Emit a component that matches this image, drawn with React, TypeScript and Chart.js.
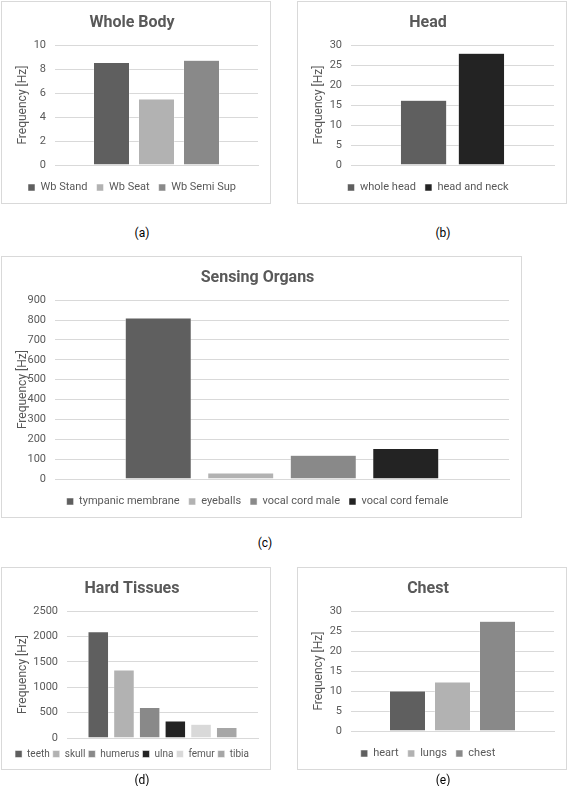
import { useEffect, useRef } from "react"
import { Chart, registerables } from "chart.js"

Chart.register(...registerables)

// (a) Whole Body
const wbLabels = ["Wb Stand", "Wb Seat", "Wb Semi Sup"]
const wbValues = [8.55, 5.5, 8.75]
const wbColors = ["#5f5f5f", "#b2b2b2", "#898989"]

// (b) Head
const headLabels = ["whole head", "head and neck"]
const headValues = [16.2, 28]
const headColors = ["#5f5f5f", "#232323"]

// (c) Sensing Organs
const senseLabels = ["tympanic membrane", "eyeballs", "vocal cord male", "vocal cord female"]
const senseValues = [810, 30, 120, 154]
const senseColors = ["#5f5f5f", "#b2b2b2", "#898989", "#232323"]

// (d) Hard Tissues
const hardLabels = ["teeth", "skull", "humerus", "ulna", "femur", "tibia"]
const hardValues = [2095, 1340, 600, 335, 270, 205]
const hardColors = ["#5f5f5f", "#b2b2b2", "#898989", "#232323", "#d9d9d9", "#a6a6a6"]

// (e) Chest
const chestLabels = ["heart", "lungs", "chest"]
const chestValues = [10, 12.3, 27.5]
const chestColors = ["#5f5f5f", "#b2b2b2", "#898989"]

const FONT = "Roboto, 'Open Sans', sans-serif"
const TEXT = "#595959"
const GRID = "#d9d9d9"

type PanelProps = {
  title: string
  labels: string[]
  values: number[]
  colors: string[]
  max: number
  step: number
  catPct: number
  yWidth: number
  legendSize?: number
  legendPad?: number
  left: number
  top: number
  width: number
  height: number
  caption: string
  captionX: number
  captionY: number
}

function Panel(p: PanelProps) {
  const chartRef = useRef<HTMLCanvasElement>(null)
  const chartInstance = useRef<Chart | null>(null)

  useEffect(() => {
    if (chartRef.current) {
      if (chartInstance.current) chartInstance.current.destroy()
      chartInstance.current = new Chart(chartRef.current, {
        type: "bar",
        data: {
          labels: [""],
          datasets: p.labels.map((l, i) => ({
            label: l,
            data: [p.values[i]],
            backgroundColor: p.colors[i],
            borderColor: "#ffffff",
            borderWidth: 0.5,
            barPercentage: 0.8,
            categoryPercentage: p.catPct
          }))
        },
        options: {
          responsive: true,
          maintainAspectRatio: false,
          animation: false,
          layout: { padding: { left: 4, right: 12, top: 2, bottom: 0 } },
          scales: {
            x: {
              ticks: { display: false },
              grid: { display: false },
              border: { display: true, color: GRID }
            },
            y: {
              min: 0,
              max: p.max,
              afterFit: (scale) => { scale.width = p.yWidth },
              ticks: {
                stepSize: p.step,
                color: TEXT,
                font: { family: FONT, size: 11 },
                padding: 9,
                callback: (v) => String(v)
              },
              grid: { color: GRID, drawTicks: false },
              border: { display: false },
              title: {
                display: true,
                text: "Frequency [Hz]",
                color: TEXT,
                font: { family: FONT, size: 12 },
                padding: { top: 10, bottom: 0 }
              }
            }
          },
          plugins: {
            title: {
              display: true,
              text: p.title,
              color: TEXT,
              font: { family: FONT, size: 16, weight: "bold" },
              padding: { top: 9, bottom: 13 }
            },
            legend: {
              position: "bottom",
              labels: {
                boxWidth: 7,
                boxHeight: 7,
                padding: p.legendPad ?? 9,
                color: TEXT,
                font: { family: FONT, size: p.legendSize ?? 11 }
              }
            },
            tooltip: { enabled: false }
          }
        }
      })
    }
    return () => { if (chartInstance.current) chartInstance.current.destroy() }
  }, [])

  return (
    <>
      <div
        style={{
          position: "absolute",
          left: p.left,
          top: p.top,
          width: p.width,
          height: p.height,
          border: "1px solid #d9d9d9",
          boxSizing: "border-box",
          background: "#fff"
        }}
      >
        <canvas ref={chartRef} />
      </div>
      <div
        style={{
          position: "absolute",
          left: p.captionX - 20,
          width: 40,
          top: p.captionY - 7,
          textAlign: "center",
          fontFamily: FONT,
          fontSize: 12,
          color: "#000"
        }}
      >
        {p.caption}
      </div>
    </>
  )
}

export default function App() {
  return (
    <div style={{ position: "fixed", left: 0, top: 0, width: 575, height: 786, background: "#fff" }}>
      <Panel title="Whole Body" labels={wbLabels} values={wbValues} colors={wbColors} max={10} step={2} catPct={0.665}
        yWidth={49} left={1} top={1} width={270} height={203} caption="(a)" captionX={142} captionY={233} />
      <Panel title="Head" labels={headLabels} values={headValues} colors={headColors} max={30} step={5} catPct={0.57}
        yWidth={49} left={297} top={1} width={270} height={203} caption="(b)" captionX={443} captionY={233} />
      <Panel title="Sensing Organs" labels={senseLabels} values={senseValues} colors={senseColors} max={900} step={100} catPct={0.727}
        yWidth={49} left={1} top={256} width={521} height={262} caption="(c)" captionX={265} captionY={543} />
      <Panel title="Hard Tissues" labels={hardLabels} values={hardValues} colors={hardColors} max={2500} step={500} catPct={0.807}
        yWidth={61} legendSize={10} legendPad={3}
        left={1} top={567} width={270} height={203} caption="(d)" captionX={142} captionY={780} />
      <Panel title="Chest" labels={chestLabels} values={chestValues} colors={chestColors} max={30} step={5} catPct={0.665}
        yWidth={49} left={297} top={567} width={270} height={203} caption="(e)" captionX={443} captionY={780} />
    </div>
  )
}
